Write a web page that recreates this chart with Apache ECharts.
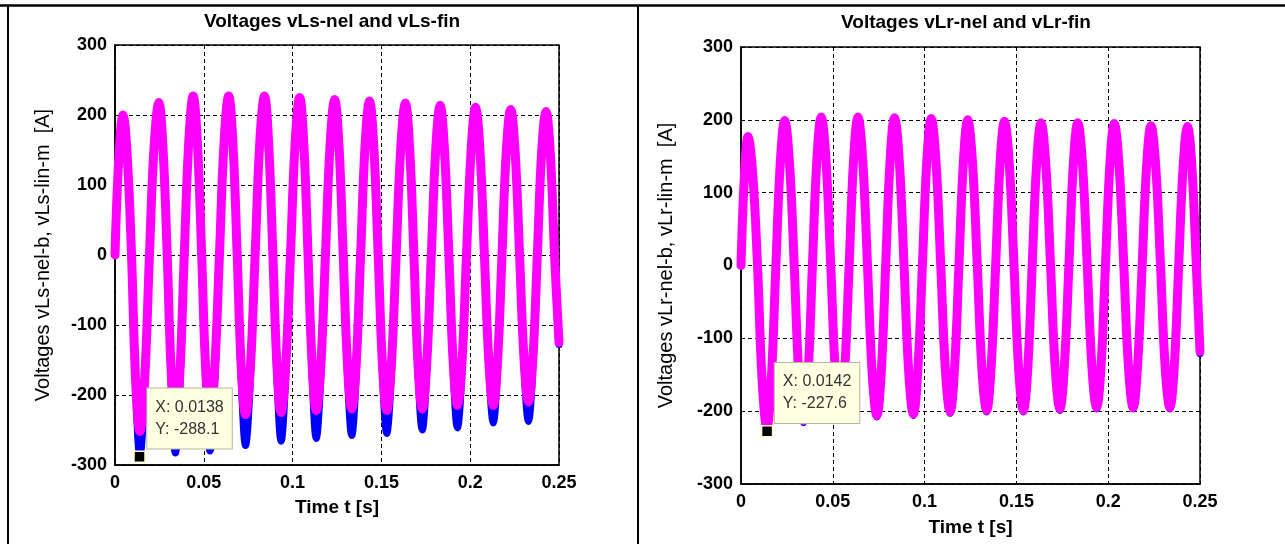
<!DOCTYPE html>
<html>
<head>
<meta charset="utf-8">
<script src="https://cdn.jsdelivr.net/npm/echarts@6/dist/echarts.min.js"></script>
<style>
  html, body { margin: 0; padding: 0; background: #fff; }
  #c { width: 1285px; height: 544px; }
</style>
</head>
<body>
<div id="c"></div>
<script>
// ---------------- DATA ----------------
const titles = ['Voltages vLs-nel and vLs-fin', 'Voltages vLr-nel and vLr-fin'];
const yNames = ['Voltages vLs-nel-b, vLs-lin-m  [A]', 'Voltages vLr-nel-b, vLr-lin-m  [A]'];
const xName = 'Time t [s]';
const xTickLabels = ['0', '0.05', '0.1', '0.15', '0.2', '0.25'];
const yTickLabels = ['-300', '-200', '-100', '0', '100', '200', '300'];

// Left panel: time samples [s]
const timeL = [
  0, 0.0022,
  0.0045, 0.0069, 0.0093, 0.0116, 0.0140, 0.0167, 0.0194, 0.0220,
  0.0247, 0.0270, 0.0294, 0.0317, 0.0340, 0.0365, 0.0390, 0.0415,
  0.0440, 0.0464, 0.0488, 0.0511, 0.0535, 0.0561, 0.0588, 0.0614,
  0.0640, 0.0664, 0.0688, 0.0711, 0.0735, 0.0762, 0.0789, 0.0815,
  0.0842, 0.0865, 0.0889, 0.0912, 0.0935, 0.0961, 0.0988, 0.1014,
  0.1040, 0.1063, 0.1087, 0.1110, 0.1133, 0.1159, 0.1185, 0.1211,
  0.1237, 0.1261, 0.1285, 0.1309, 0.1333, 0.1358, 0.1383, 0.1408,
  0.1433, 0.1457, 0.1482, 0.1506, 0.1530, 0.1556, 0.1583, 0.1609,
  0.1635, 0.1659, 0.1683, 0.1706, 0.1730, 0.1755, 0.1781, 0.1806,
  0.1831, 0.1855, 0.1880, 0.1904, 0.1928, 0.1954, 0.1979, 0.2005,
  0.2030, 0.2055, 0.2080, 0.2105, 0.2130, 0.2154, 0.2179, 0.2203,
  0.2228, 0.2253, 0.2278, 0.2303, 0.2328, 0.2353, 0.2378, 0.2402,
  0.2427, 0.2451, 0.2475, 0.2500
];
// vLs-nel-b (blue)
const blueL = [
  20, 135,
  196, 138, -4, -190, -288, -192, 4, 150,
  214, 150, -4, -188, -283, -190, 4, 156,
  223, 156, -4, -185, -280, -186, 4, 156,
  223, 156, -4, -180, -272, -181, 4, 156,
  223, 156, -4, -176, -266, -177, 4, 155,
  221, 155, -4, -174, -262, -175, 4, 153,
  218, 153, -4, -172, -258, -173, 4, 152,
  216, 152, -4, -171, -255, -172, 4, 149,
  213, 149, -4, -168, -250, -169, 4, 147,
  210, 147, -4, -166, -247, -167, 4, 145,
  207, 145, -4, -162, -240, -163, 4, 143,
  204, 143, -4, -160, -238, -161, 4, 141,
  201, 141, -4, -128
];
// vLs-lin-m (magenta)
const magL = [
  0, 141,
  200, 141, 0, -178, -252, -178, 0, 154,
  218, 154, 0, -170, -240, -170, 0, 160,
  227, 160, 0, -165, -234, -165, 0, 160,
  227, 160, 0, -161, -228, -161, 0, 160,
  227, 160, 0, -159, -225, -159, 0, 159,
  225, 159, 0, -157, -222, -157, 0, 157,
  222, 157, 0, -156, -220, -156, 0, 156,
  220, 156, 0, -157, -222, -157, 0, 153,
  217, 153, 0, -156, -220, -156, 0, 151,
  214, 151, 0, -152, -215, -152, 0, 149,
  211, 149, 0, -152, -215, -152, 0, 147,
  208, 147, 0, -148, -210, -148, 0, 145,
  205, 145, 0, -125
];

// Right panel: time samples [s]
const timeR = [
  0, 0.0019,
  0.0038, 0.0064, 0.0090, 0.0115, 0.0141, 0.0165, 0.0190, 0.0214,
  0.0238, 0.0264, 0.0290, 0.0315, 0.0341, 0.0365, 0.0389, 0.0413,
  0.0437, 0.0463, 0.0489, 0.0514, 0.0540, 0.0564, 0.0589, 0.0613,
  0.0637, 0.0663, 0.0689, 0.0714, 0.0740, 0.0764, 0.0788, 0.0812,
  0.0836, 0.0862, 0.0888, 0.0913, 0.0939, 0.0963, 0.0988, 0.1012,
  0.1036, 0.1062, 0.1088, 0.1113, 0.1139, 0.1163, 0.1187, 0.1211,
  0.1235, 0.1261, 0.1287, 0.1312, 0.1338, 0.1362, 0.1387, 0.1411,
  0.1435, 0.1461, 0.1487, 0.1512, 0.1538, 0.1562, 0.1586, 0.1610,
  0.1634, 0.1660, 0.1686, 0.1711, 0.1737, 0.1761, 0.1786, 0.1810,
  0.1834, 0.1860, 0.1886, 0.1911, 0.1937, 0.1961, 0.1985, 0.2009,
  0.2033, 0.2059, 0.2085, 0.2110, 0.2136, 0.2160, 0.2185, 0.2209,
  0.2233, 0.2259, 0.2285, 0.2310, 0.2336, 0.2360, 0.2384, 0.2408,
  0.2432, 0.2456, 0.2480, 0.2500
];
// vLr-nel-b (blue)
const blueR = [
  0, 122,
  175, 122, -3, -160, -227.6, -161, 3, 138,
  197, 138, -3, -153, -216, -154, 3, 141,
  202, 141, -3, -150, -212, -151, 3, 141,
  202, 141, -3, -148, -208, -149, 3, 141,
  201, 141, -3, -146, -206, -147, 3, 140,
  200, 140, -3, -144, -203, -145, 3, 138,
  198, 138, -3, -143, -201, -144, 3, 137,
  196, 137, -3, -143, -201, -144, 3, 136,
  194, 136, -3, -141, -199, -142, 3, 136,
  194, 136, -3, -140, -197, -141, 3, 135,
  193, 135, -3, -140, -197, -141, 3, 133,
  190, 133, -3, -140, -197, -141, 3, 132,
  189, 132, -3, -121
];
// vLr-lin-m (magenta)
const magR = [
  0, 125,
  177, 125, 0, -157, -222, -157, 0, 141,
  199, 141, 0, -151, -213, -151, 0, 144,
  204, 144, 0, -148, -210, -148, 0, 144,
  204, 144, 0, -146, -206, -146, 0, 144,
  203, 144, 0, -144, -204, -144, 0, 143,
  202, 143, 0, -142, -201, -142, 0, 141,
  200, 141, 0, -141, -199, -141, 0, 140,
  198, 140, 0, -141, -199, -141, 0, 139,
  196, 139, 0, -139, -197, -139, 0, 139,
  196, 139, 0, -138, -195, -138, 0, 138,
  195, 138, 0, -138, -195, -138, 0, 136,
  192, 136, 0, -138, -195, -138, 0, 135,
  191, 135, 0, -118
];

// Data tips
const tipX = [0.0138, 0.0142];
const tipY = [-288.1, -227.6];
const tipXText = ['0.0138', '0.0142'];
const tipYText = ['-288.1', '-227.6'];

// ---------------- CHART ----------------
const FONT = '"Liberation Sans", Arial, Helvetica, sans-serif';
const pair = (t, v) => t.map((x, i) => [x, v[i]]);

const grids = [
  { left: 115, top: 45, width: 444, height: 420 },
  { left: 741, top: 47, width: 459, height: 437 }
];

function xAxisCfg(i, gap) {
  return {
    type: 'value', gridIndex: i, min: 0, max: 0.25, interval: 0.05,
    name: xName, nameLocation: 'middle', nameGap: gap,
    nameTextStyle: { color: '#000', fontWeight: 'bold', fontSize: 19, fontFamily: FONT },
    axisLine: { show: true, onZero: false, lineStyle: { color: '#000', width: 1.5 } },
    axisTick: { show: false },
    axisLabel: {
      color: '#000', fontWeight: 'bold', fontSize: 18, margin: 9, fontFamily: FONT,
      formatter: v => xTickLabels[Math.round(v / 0.05)]
    },
    splitLine: { show: true, lineStyle: { color: '#000', width: 1, type: [4, 3] } }
  };
}
function yAxisCfg(i, gap) {
  return {
    type: 'value', gridIndex: i, min: -300, max: 300, interval: 100,
    name: yNames[i], nameLocation: 'middle', nameGap: gap, nameRotate: 90,
    nameTextStyle: { color: '#000', fontSize: 20, fontFamily: FONT },
    axisLine: { show: true, onZero: false, lineStyle: { color: '#000', width: 1.5 } },
    axisTick: { show: false },
    axisLabel: {
      color: '#000', fontWeight: 'bold', fontSize: 18, margin: 8, fontFamily: FONT,
      formatter: v => yTickLabels[Math.round((v + 300) / 100)]
    },
    splitLine: { show: true, lineStyle: { color: '#000', width: 1, type: [4, 3] } }
  };
}

function lineSeries(i, t, v, color, width, z) {
  return {
    type: 'line', xAxisIndex: i, yAxisIndex: i, data: pair(t, v),
    showSymbol: false, smooth: 0.4, z: z,
    lineStyle: { color: color, width: width, join: 'round', cap: 'round' },
    itemStyle: { color: color },
    emphasis: { disabled: true },
    animation: false
  };
}

function tipSeries(i) {
  return {
    type: 'scatter', xAxisIndex: i, yAxisIndex: i, z: 20, zlevel: 1,
    data: [[tipX[i], tipY[i]]],
    symbol: 'rect', symbolSize: 11,
    itemStyle: { color: '#000', borderColor: '#ffffcc', borderWidth: 1.5, opacity: 1 },
    emphasis: { disabled: true },
    label: {
      show: true, position: [14, -62], opacity: 1,
      formatter: 'X: ' + tipXText[i] + '\nY: ' + tipYText[i],
      backgroundColor: '#ffffe1', borderColor: '#b4b4a0', borderWidth: 1,
      padding: [8, 8, 8, 8], lineHeight: 22,
      fontSize: 16, color: '#333', fontFamily: FONT
    },
    animation: false
  };
}

function txt(x, y, text, font) {
  return {
    type: 'text', x: x, y: y, z: 100,
    style: { text: text, font: font, fill: '#000',
      align: 'center', verticalAlign: 'middle',
      textAlign: 'center', textVerticalAlign: 'middle' }
  };
}
function ln(x1, y1, x2, y2, w) {
  return { type: 'line', z: 100, shape: { x1, y1, x2, y2 }, style: { stroke: '#000', lineWidth: w } };
}

const option = {
  backgroundColor: '#fff',
  animation: false,
  grid: grids.map(g => Object.assign({ show: true, borderColor: '#000', borderWidth: 1.5, backgroundColor: '#fff' }, g)),
  xAxis: [xAxisCfg(0, 33), xAxisCfg(1, 34)],
  yAxis: [yAxisCfg(0, 62), yAxisCfg(1, 65)],
  series: [
    lineSeries(0, timeL, blueL, '#0000ff', 7, 2),
    lineSeries(0, timeL, magL, '#ff00ff', 9, 3),
    lineSeries(1, timeR, blueR, '#0000ff', 7, 2),
    lineSeries(1, timeR, magR, '#ff00ff', 9, 3),
    tipSeries(0),
    tipSeries(1)
  ],
  graphic: [
    ln(0, 5.5, 1285, 5.5, 2.5),
    ln(8, 5, 8, 544, 2),
    ln(638, 5, 638, 544, 2),
    txt(332, 22, titles[0], 'bold 19px ' + FONT),
    txt(966, 23, titles[1], 'bold 19px ' + FONT)
  ]
};

const chart = echarts.init(document.getElementById('c'), null, { renderer: 'canvas' });
chart.setOption(option);
</script>
</body>
</html>
